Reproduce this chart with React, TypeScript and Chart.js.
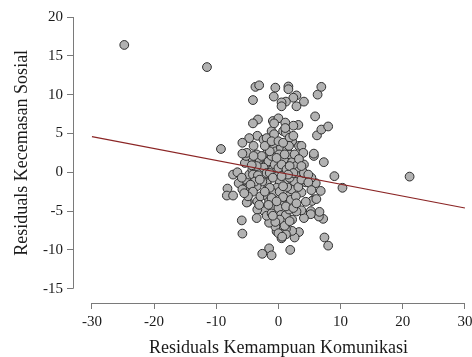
import React, { useEffect, useRef } from "react";
import { Chart, registerables } from "chart.js";

Chart.register(...registerables);

const xValues: number[] = [
  -24.8, -11.5, -9.25, 21.1, 9.0, 10.3, -8.2, -8.3, -7.3, -7.3, -6.6, -6.4, -5.9, -5.8, -2.6, -1.5, -1.1, 1.9, 7.4, 8.0,
  7.2, 6.5, 6.6, 5.7, 5.4, 5.2, 5.2, 6.8, 6.0, 5.3, 7.3, 5.7, 5.7, 6.2, 6.9, 8.0, 5.9, 6.3, 6.9, 4.1,
  2.9, 2.9, 2.4, 1.6, 1.6, 1.2, 0.5, 0.5, -0.5, -0.75, -3.7, -3.1, -4.1, -3.3, -4.1, -0.9, 0, 1.1, 3.2, 2.4,
  -3.4, -4.7, -5.8, -4.0, -1.1, 3.3, 3.7, 2.2, 4.0, 4.1, 4.4, 3.7, 4.4, 4.1, 3.7, 2.9, 3.3, 2.6, 2.2, 2.2,
  1.2, 1.2, 0.5, -0.3, -0.5, -1.5, -2.3, -3.4, -4.9, -3.4, -2.9, -1.7, -1.5, -0.9, 0.6, 1.8, 1.6, 2.1, 1.4, 1.2,
  0.75, -0.2, -1.0, -1.3, -1.9, -2.6, -3.5, -4.9, -5.4, -5.2, -4.7, -4.2, -4.0, -4.6, -5.4, -5.2, -5.1, -5.8, -3.5, -3.0,
  -2.7, -2.2, -1.8, -1.5, -2.4, -1.9, -0.7, -0.4, 0.4, 0.1, 0.2, 0.9, 1.4, 1.8, 2.2, 2.8, 3.2, 3.3, 2.6, 1.8,
  0.2, -0.3, -0.75, 0.2, 0.75, 0, 0.4, 1.2, 1.7, 0.2, -0.5, 0, 0.6, -2.2, -1.6, -1.1, -0.6, -1.4, -0.7, 0.75,
  1.2, 1.1, -0.7, 1.8, 2.4, 1.7, -4.1, -3.3, -3.8, -4.5, -3.0, -5.9, -5.8, -4.1, -3.1, -3.5, -1.9, -1.1, 1.0, 1.8,
  2.0, 2.8, 3.2, 3.7, 4.1, 4.8, 4.8, 5.3, 6.1, -5.1, -4.9, -5.5, -2.4, -1.9, -1.4, 0, 0.5, 1.3, 1.8, 2.4,
  1.55, 0.75, -1.4, -2.2, -1.1, -0.3, 1.2, 2.4, 2.9, -1.6, -0.9, -2.7, -2.2, -1.1, 0, 0.75, -0.3, 1.0, 2.6, 3.3,
  3.7, -3.5, -4.3, -4.0, -0.9, 0.5,
];

const yValues: number[] = [
  16.4, 13.55, 3.0, -0.56, -0.5, -2.0, -2.1, -3.0, -3.0, -0.3, 0, -1.4, -6.2, -7.9, -10.5, -9.8, -10.7, -10.0, -8.4, -9.45,
  -6.0, -5.7, -5.1, -3.5, -3.7, -5.0, -5.4, -2.4, -1.4, -0.7, 1.3, 2.1, 2.4, 4.75, 5.5, 5.9, 7.2, 10.0, 11.0, 9.1,
  9.9, 8.5, 9.6, 11.05, 10.7, 9.1, 9.0, 8.5, 10.9, 9.75, 11.0, 11.2, 9.3, 6.8, 6.3, 6.6, 6.95, 6.4, 6.1, 6.0,
  4.7, 4.4, 3.8, 3.4, 5.3, 3.4, 3.4, 4.0, 2.5, 1.0, -1.3, -2.6, -3.8, -5.9, -4.9, -5.05, -7.7, -8.4, -7.55, -6.1,
  -7.3, -8.0, -8.5, -7.6, -7.0, -6.5, -5.0, -4.8, -3.8, -3.75, -3.1, -3.2, -3.75, -4.4, -4.0, -3.8, -3.1, -2.2, -1.9, -0.95,
  -0.1, -0.1, 0.35, -0.7, -1.4, -1.2, -1.8, -2.2, -2.1, -0.95, -0.3, 0.35, 1.2, 1.6, 1.2, 2.1, 2.5, 2.4, 2.3, 1.6,
  0.8, 2.1, 2.5, 3.8, 4.2, 4.4, 3.4, 2.7, 3.15, 2.3, 1.4, 1.7, 2.9, 2.3, 1.3, 0.8, 0.1, -0.5, -1.2, -0.7,
  -1.2, -2.0, -2.7, -2.5, -3.2, -4.6, -5.5, -5.5, -4.8, -6.1, -6.4, -7.85, -8.3, 0.8, 1.4, 2.1, 1.0, 2.7, 4.9, 5.3,
  5.1, 5.7, 6.3, 4.45, 4.7, 3.4, -0.3, -0.4, -1.2, -1.6, -0.95, -0.7, -2.2, -2.5, -4.2, -5.9, -5.6, -5.3, -6.9, -6.3,
  -3.55, -3.1, -1.9, -0.95, -0.1, -0.3, -1.3, -2.3, -3.45, -3.9, -3.1, -2.7, 0.6, -0.1, -0.1, 0.55, 1.0, 0.35, 0.8, -0.1,
  -0.3, -1.8, -2.0, -2.5, -3.3, -3.75, -4.4, -4.6, -4.0, -4.2, -5.6, 2.1, 3.4, 4.0, 4.0, 3.8, 1.85, 2.3, 2.3, 1.7,
  0.8, 0.8, 0.9, 2.1, -0.7, -0.5,
];

const lineX: number[] = [-30, 30];
const lineY: number[] = [4.6, -4.6];

const xTicks: number[] = [-30, -20, -10, 0, 10, 20, 30];
const yTicks: number[] = [-15, -10, -5, 0, 5, 10, 15, 20];

const xTitle = "Residuals Kemampuan Komunikasi";
const yTitle = "Residuals Kecemasan Sosial";

const FONT = "'Liberation Serif', 'DejaVu Serif', serif";

export default function App() {
  const canvasRef = useRef<HTMLCanvasElement | null>(null);

  useEffect(() => {
    document.body.style.margin = "0";
    const canvas = canvasRef.current;
    if (!canvas) return;

    const axisPlugin = {
      id: "axisLinesAndTitles",
      afterDraw(chart: any) {
        const ctx = chart.ctx;
        const xs = chart.scales.x;
        const ys = chart.scales.y;
        const area = chart.chartArea;
        const align = (v: number) => Math.round(v) + 0.5;
        ctx.save();
        ctx.strokeStyle = "#7a7a7a";
        ctx.lineWidth = 1;
        ctx.beginPath();
        const lx = align(area.left);
        ctx.moveTo(lx, ys.getPixelForValue(yTicks[yTicks.length - 1]));
        ctx.lineTo(lx, ys.getPixelForValue(yTicks[0]));
        const by = align(area.bottom);
        ctx.moveTo(xs.getPixelForValue(xTicks[0]), by);
        ctx.lineTo(xs.getPixelForValue(xTicks[xTicks.length - 1]), by);
        ctx.stroke();

        ctx.fillStyle = "#1a1a1a";
        ctx.font = `18px ${FONT}`;
        ctx.textAlign = "center";
        ctx.textBaseline = "middle";
        const xc = (xs.getPixelForValue(xTicks[0]) + xs.getPixelForValue(xTicks[xTicks.length - 1])) / 2;
        ctx.fillText(xTitle, xc, area.bottom + 45);
        const yc = (ys.getPixelForValue(yTicks[0]) + ys.getPixelForValue(yTicks[yTicks.length - 1])) / 2;
        ctx.translate(area.left - 51, yc);
        ctx.rotate(-Math.PI / 2);
        ctx.fillText(yTitle, 0, 0);
        ctx.restore();
      },
    };

    const chart = new Chart(canvas, {
      type: "scatter",
      data: {
        datasets: [
          {
            type: "line",
            data: lineX.map((x, i) => ({ x, y: lineY[i] })),
            borderColor: "#8b2525",
            borderWidth: 1.2,
            pointRadius: 0,
            fill: false,
            order: 0,
          } as any,
          {
            type: "scatter",
            data: xValues.map((x, i) => ({ x, y: yValues[i] })),
            backgroundColor: "#b2b2b2",
            borderColor: "#2e2e2e",
            borderWidth: 1,
            pointRadius: 4.4,
            order: 1,
          },
        ],
      },
      options: {
        animation: false,
        responsive: false,
        devicePixelRatio: 1,
        layout: { padding: { top: 17, left: 0, right: 0, bottom: 0 } },
        plugins: {
          legend: { display: false },
          tooltip: { enabled: false },
        },
        scales: {
          x: {
            type: "linear",
            min: -33.05,
            max: 30.27,
            afterBuildTicks: (scale: any) => {
              scale.ticks = xTicks.map((v) => ({ value: v }));
            },
            afterFit: (scale: any) => {
              scale.height = 54;
              scale.paddingLeft = 0;
              scale.paddingRight = 0;
            },
            grid: {
              display: true,
              drawOnChartArea: false,
              drawTicks: true,
              tickLength: 6,
              color: "#7a7a7a",
              lineWidth: 1,
            },
            border: { display: false },
            ticks: {
              autoSkip: false,
              maxRotation: 0,
              padding: 4,
              color: "#1a1a1a",
              font: { family: FONT, size: 15 },
              callback: (v: any) => String(v),
            },
          },
          y: {
            type: "linear",
            min: -16.84,
            max: 20,
            afterBuildTicks: (scale: any) => {
              scale.ticks = yTicks.map((v) => ({ value: v }));
            },
            afterFit: (scale: any) => {
              scale.width = 73;
              scale.paddingTop = 0;
              scale.paddingBottom = 0;
            },
            grid: {
              display: true,
              drawOnChartArea: false,
              drawTicks: true,
              tickLength: 6,
              color: "#7a7a7a",
              lineWidth: 1,
            },
            border: { display: false },
            ticks: {
              autoSkip: false,
              padding: 4,
              color: "#1a1a1a",
              font: { family: FONT, size: 15 },
              callback: (v: any) => String(v),
            },
          },
        },
      },
      plugins: [axisPlugin],
    });

    return () => {
      chart.destroy();
    };
  }, []);

  return (
    <div style={{ width: 472, height: 357 }}>
      <canvas ref={canvasRef} width={472} height={357} style={{ display: "block" }} />
    </div>
  );
}
